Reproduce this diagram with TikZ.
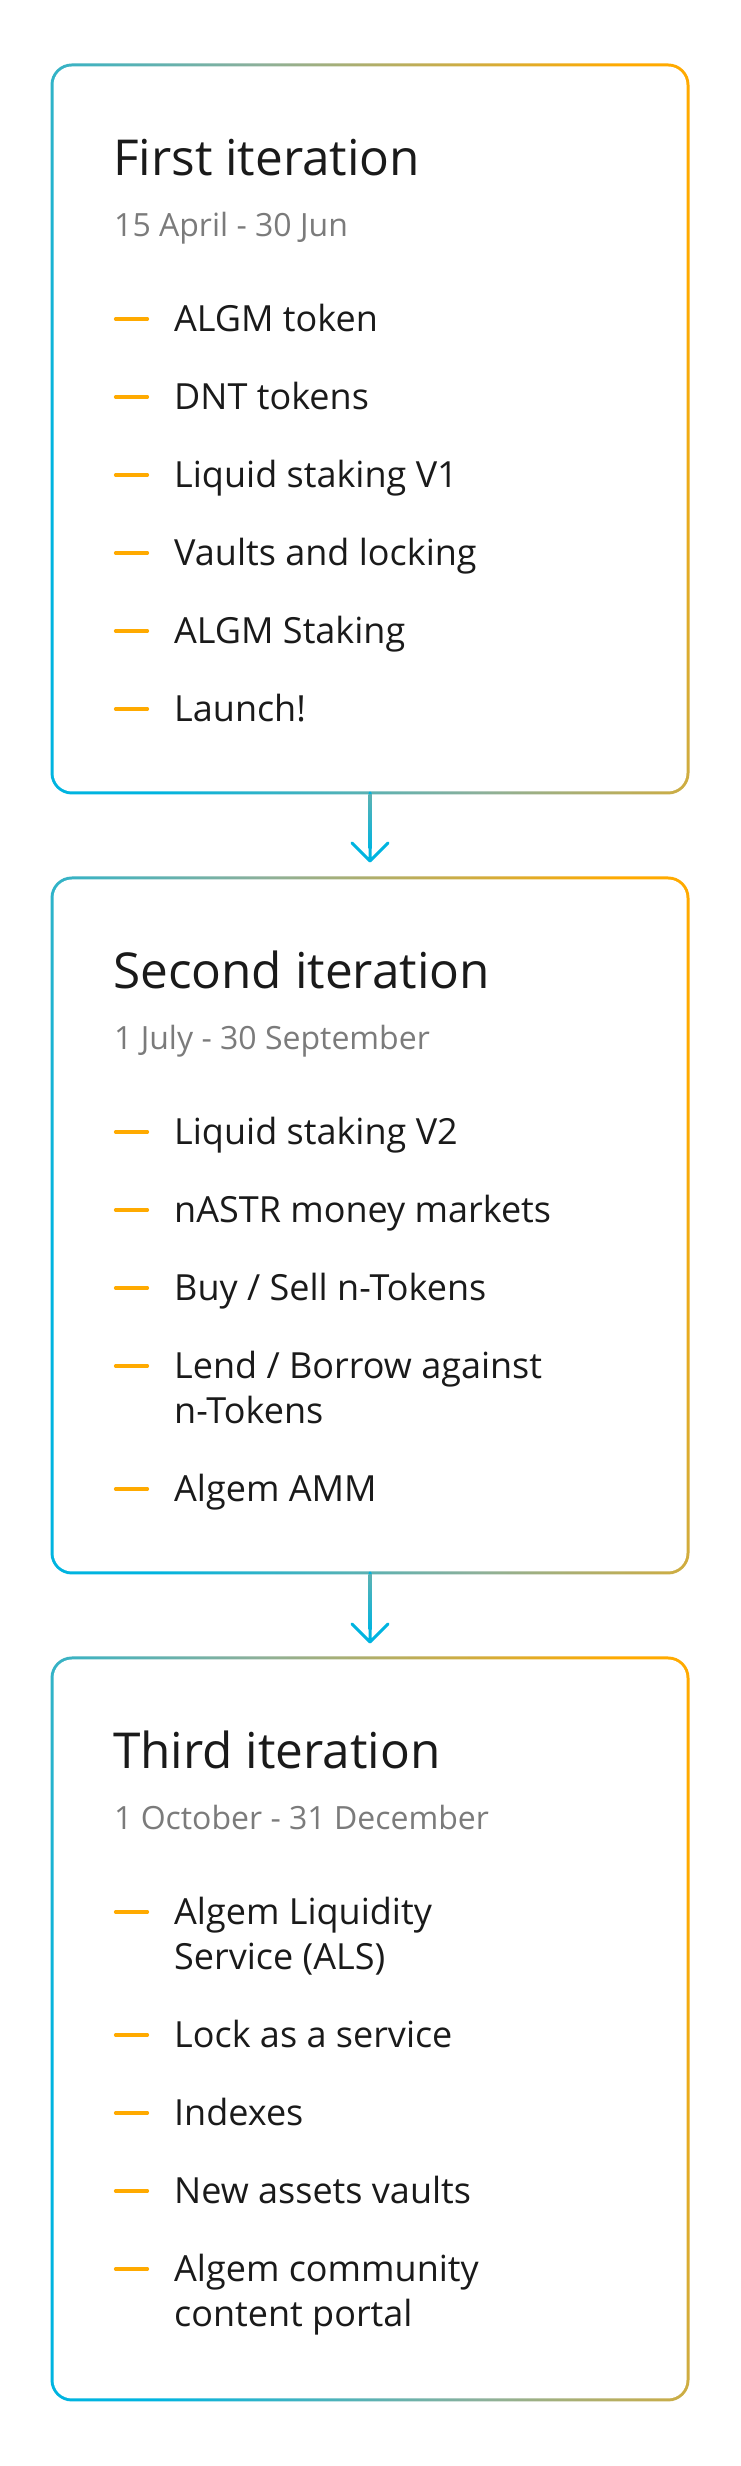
\documentclass[tikz,border=0pt]{standalone}
\usepackage{fontspec}
\setmainfont{Open Sans}
\usetikzlibrary{calc}
\definecolor{cy}{HTML}{00B4E0}
\definecolor{og}{HTML}{FFAA00}
\definecolor{mid}{HTML}{8CB09A}
\colorlet{sage}{mid!66!cy}
\definecolor{ink}{HTML}{1A1A1A}
\definecolor{greytxt}{HTML}{7B7B7B}
\definecolor{dashcol}{HTML}{FFAA00}
\pgfdeclarehorizontalshading{ringgrad}{100bp}{color(0bp)=(cy); color(31bp)=(cy); color(50bp)=(mid); color(71bp)=(og); color(100bp)=(og)}
\tikzset{
  boxnode/.style={draw=none, rectangle, inner sep=0pt, outer sep=0pt, minimum width=636pt},
  titletext/.style={anchor=base west, inner sep=0pt, text=ink, font=\fontsize{49.5}{58}\selectfont},
  datetext/.style={anchor=base west, inner sep=0pt, text=greytxt, font=\fontsize{32}{38}\selectfont},
  itemtext/.style={anchor=base west, inner sep=0pt, text=ink, align=left, font=\fontsize{36}{45}\selectfont},
  dashline/.style={draw=dashcol, line width=3.2pt, line cap=round},
  conn/.style={draw=cy, line width=3pt, line cap=round, line join=round}
}
\newcommand\gradring[2]{%
  \pgfmathsetmacro\U{318*cos(17)+#2*sin(17)}%
  \begin{scope}
    \clip[rounded corners=21.5pt] ($(#1.south west)+(-1.5,-1.5)$) rectangle ($(#1.north east)+(1.5,1.5)$);
    \begin{scope}[transform canvas={rotate around={17:(#1.center)}}]
      \shade[shading=ringgrad] ($(#1.center)+(-\U,-600)$) rectangle ($(#1.center)+(\U,600)$);
    \end{scope}
  \end{scope}
  \fill[white, rounded corners=18.5pt] ($(#1.south west)+(1.5,1.5)$) rectangle ($(#1.north east)+(-1.5,-1.5)$);%
}
% #1 box, #2 dash offset from top, #3 node name, #4 text (one line)
\newcommand\ritem[4]{%
  \draw[dashline] ($(#1.north west)+(63.5,-#2)$) -- ++(32,0);
  \node[itemtext] (#3) at ($(#1.north west)+(122,-#2-13)$) {#4};%
}
% two-line item: base anchor is the baseline of the last line
\newcommand\ritemtwo[4]{%
  \draw[dashline] ($(#1.north west)+(63.5,-#2)$) -- ++(32,0);
  \node[itemtext] (#3) at ($(#1.north west)+(122,-#2-58)$) {#4};%
}
\begin{document}
\begin{tikzpicture}[x=1pt,y=1pt]
\fill[white] (0,0) rectangle (740,2466);
\useasboundingbox (0,0) rectangle (740,2466);

\node[boxnode, minimum height=728pt] (b1) at (370,2037) {};
\node[boxnode, minimum height=695pt] (b2) at (370,1240.5) {};
\node[boxnode, minimum height=742pt] (b3) at (370,437) {};

\gradring{b1}{364}
\gradring{b2}{347.5}
\gradring{b3}{371}

% connectors
\coordinate (a1) at ($(b2.north)+(0,17)$);
\coordinate (a2) at ($(b3.north)+(0,16)$);
\draw[conn] (b1.south) -- (a1) ++(-18,18) -- (a1) -- ++(18,18);
\shade[top color=sage, bottom color=cy] ($(b1.south)+(-1.5,-1.5)$) rectangle ($(a1)+(1.5,12)$);
\draw[conn] (b2.south) -- (a2) ++(-18,18) -- (a2) -- ++(18,18);
\shade[top color=sage, bottom color=cy] ($(b2.south)+(-1.5,-1.5)$) rectangle ($(a2)+(1.5,12)$);

% box 1
\node[titletext] (t1) at ($(b1.north west)+(61,-111)$) {First iteration};
\node[datetext] (d1) at ($(b1.north west)+(62,-172)$) {15 April - 30 Jun};
\ritem{b1}{254}{i11}{ALGM token}
\ritem{b1}{332}{i12}{DNT tokens}
\ritem{b1}{410}{i13}{Liquid staking V1}
\ritem{b1}{488}{i14}{Vaults and locking}
\ritem{b1}{566}{i15}{ALGM Staking}
\ritem{b1}{644}{i16}{Launch!}

% box 2
\node[titletext] (t2) at ($(b2.north west)+(61,-111)$) {Second iteration};
\node[datetext] (d2) at ($(b2.north west)+(62,-172)$) {1 July - 30 September};
\ritem{b2}{254}{i21}{Liquid staking V2}
\ritem{b2}{332}{i22}{nASTR money markets}
\ritem{b2}{410}{i23}{Buy / Sell n-Tokens}
\ritemtwo{b2}{488}{i24}{Lend / Borrow against\\n-Tokens}
\ritem{b2}{611}{i25}{Algem AMM}

% box 3
\node[titletext] (t3) at ($(b3.north west)+(61,-111)$) {Third iteration};
\node[datetext] (d3) at ($(b3.north west)+(62,-172)$) {1 October - 31 December};
\ritemtwo{b3}{254}{i31}{Algem Liquidity\\Service (ALS)}
\ritem{b3}{377}{i32}{Lock as a service}
\ritem{b3}{455}{i33}{Indexes}
\ritem{b3}{533}{i34}{New assets vaults}
\ritemtwo{b3}{611}{i35}{Algem community\\content portal}
\end{tikzpicture}
\end{document}
